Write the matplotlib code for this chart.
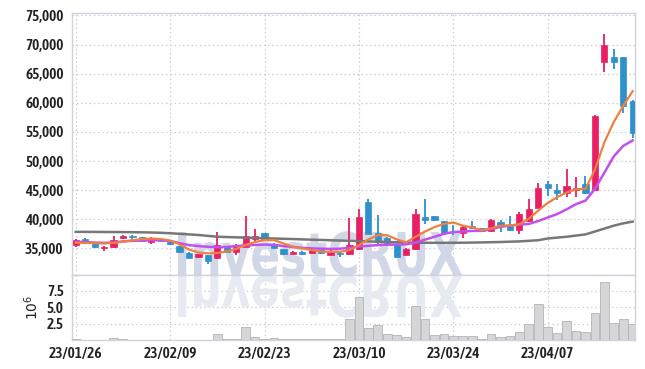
import numpy as np
import matplotlib
matplotlib.use("Agg")
import matplotlib.pyplot as plt
from matplotlib.textpath import TextPath
from matplotlib.font_manager import FontProperties, fontManager
from matplotlib.path import Path
from matplotlib.patches import PathPatch, Rectangle

# ---------------- data ----------------
tick_labels = ["23/01/26", "23/02/09", "23/02/23", "23/03/10", "23/03/24", "23/04/07"]
tick_index = [0, 10, 20, 30, 40, 50]

opens = [35500, 36600, 35850, 35000, 35200, 36710, 37100, 36880, 36150, 36500,
         36130, 35390, 34250, 33560, 33850, 33290, 35270, 34420, 35270, 36540,
         37670, 35750, 34830, 34080, 34420, 34250, 34710, 33850, 34250, 34020,
         34830, 42950, 37570, 36820, 35560, 33850, 34880, 40410, 40530, 39670,
         37900, 37670, 38820, 38420, 38010, 39450, 38870, 38130, 39730, 42020,
         46130, 45100, 44520, 45100, 46130, 45100, 66950, 67920, 67920, 60400]
highs = [36650, 36700, 36000, 35350, 37050, 37350, 37350, 36950, 37000, 36700,
         36200, 35400, 34300, 34100, 33900, 37740, 35300, 35800, 40530, 38250,
         37700, 35900, 34900, 34500, 34500, 34960, 34800, 34960, 34300, 40300,
         41830, 43500, 40700, 36900, 35600, 35100, 41730, 43440, 40600, 39700,
         38990, 38800, 39720, 38500, 40100, 39900, 40530, 41300, 43560, 46230,
         46600, 46130, 48700, 47260, 47380, 57900, 71810, 69240, 67950, 60450]
lows = [35300, 35900, 35000, 34550, 35100, 36600, 36600, 36250, 35780, 36200,
        35500, 34250, 33300, 33400, 32400, 33100, 34300, 33900, 35200, 36200,
        36500, 35050, 33950, 34000, 33800, 34200, 34100, 33800, 33550, 33900,
        34700, 37400, 35700, 35400, 33500, 33800, 34800, 39150, 39700, 37500,
        37270, 36800, 38300, 37800, 37900, 37740, 38000, 37500, 39600, 41900,
        44000, 43390, 43900, 43830, 44400, 45000, 65230, 65800, 58230, 54000]
closes = [36400, 35950, 35200, 35270, 36420, 37160, 36880, 36300, 36550, 36350,
          35680, 34300, 33390, 33970, 32880, 35560, 34420, 35390, 37100, 37100,
          36540, 35150, 34020, 34420, 34080, 34710, 34140, 34590, 33970, 35560,
          40410, 37500, 36130, 35850, 33560, 34880, 40870, 39840, 39840, 37570,
          37800, 38700, 38420, 37960, 39960, 38870, 38130, 40990, 41730, 45440,
          45440, 44520, 45660, 45440, 44520, 57820, 69970, 66950, 59540, 54790]

ma_short = [35960, 35950, 35900, 35850, 35950, 36150, 36400, 36600, 36700, 36600,
            36350, 35700, 34800, 34300, 34150, 34200, 34500, 34900, 35600, 36100,
            36420, 36420, 35850, 35270, 35000, 34710, 34450, 34400, 34420, 34710,
            35560, 36540, 37270, 37270, 36540, 36050, 37000, 37900, 38650, 39200,
            39450, 38900, 38600, 38100, 38450, 38900, 38950, 39150, 40100, 41500,
            42800, 43800, 44600, 45150, 45200, 48500, 53200, 56700, 59500, 62000]
ma_mid = [36130, 36100, 36000, 35950, 36000, 36200, 36300, 36350, 36400, 36400,
          36250, 35900, 35560, 35400, 35270, 35220, 35250, 35400, 35500, 35600,
          35650, 35600, 35400, 35250, 35100, 35000, 34950, 34900, 34950, 35100,
          35300, 35450, 35560, 35650, 35650, 35700, 36000, 36500, 36990, 37500,
          37800, 37900, 38000, 38000, 38300, 38700, 38900, 39100, 39200, 39700,
          40300, 40900, 41700, 42600, 43200, 45200, 48000, 50800, 52600, 53540]
ma_long = [37840, 37840, 37830, 37820, 37810, 37800, 37780, 37760, 37730, 37680,
           37600, 37500, 37400, 37300, 37150, 37000, 36950, 36900, 36850, 36800,
           36750, 36700, 36650, 36600, 36550, 36500, 36450, 36400, 36350, 36300,
           36250, 36200, 36150, 36100, 36050, 36000, 35980, 35960, 35960, 35960,
           35960, 35980, 36000, 36030, 36060, 36100, 36150, 36200, 36300, 36400,
           36700, 36850, 37000, 37200, 37400, 37900, 38400, 38900, 39300, 39600]

volumes = [0.2, 0.05, 0.0, 0.05, 0.3, 0.15, 0.0, 0.0, 0.0, 0.0,
           0.05, 0.1, 0.1, 0.05, 0.1, 0.95, 0.2, 0.2, 2.0, 0.45,
           0.15, 0.3, 0.15, 0.15, 0.15, 0.15, 0.15, 0.15, 0.15, 3.3,
           6.5, 1.8, 2.3, 0.95, 0.8, 0.45, 5.2, 3.3, 0.8, 0.9,
           0.65, 0.65, 0.65, 0.15, 0.9, 0.45, 0.65, 1.2, 2.4, 5.45,
           2.0, 1.05, 3.0, 1.45, 1.2, 4.1, 8.9, 2.6, 3.2, 2.4]

# ---------------- style ----------------
W, H = 645, 369
UP = "#e91e63"
DOWN = "#2d91cb"
GRID = "#c9ccdb"
SPINE = "#d0d3dd"
TXT = "#222222"

# pick a narrow font if one is installed
def pick_narrow():
    best = None
    for f in fontManager.ttflist:
        nm = f.name
        st = str(f.stretch)
        narrow = ("Narrow" in nm or "Condensed" in nm or st in ("condensed", "semi-condensed"))
        if not narrow:
            continue
        if f.style != "normal":
            continue
        w = f.weight if isinstance(f.weight, int) else {"bold": 700, "normal": 400}.get(f.weight, 400)
        score = abs(w - 600)
        if best is None or score < best[0]:
            best = (score, f.fname)
    return best[1] if best else None

nf = pick_narrow()
if nf:
    TICKFP = FontProperties(fname=nf, size=11)
else:
    TICKFP = FontProperties(family="DejaVu Sans", size=10)

fig = plt.figure(figsize=(W / 100, H / 100), dpi=100)
fig.patch.set_facecolor("white")

def frac_box(l, t, r, b):
    return [l / W, 1 - b / H, (r - l) / W, (b - t) / H]

ax = fig.add_axes(frac_box(72, 12.7, 635, 275))
axv = fig.add_axes(frac_box(72, 275, 635, 340.3), sharex=ax)

n = len(closes)
x = np.arange(n)

for a in (ax, axv):
    a.set_axisbelow(True)
    for s in a.spines.values():
        s.set_color(SPINE)
        s.set_linewidth(1.0)
    a.grid(True, color=GRID, linestyle=(0, (1.2, 2.2)), linewidth=0.9)
    a.tick_params(length=0, colors=TXT)

# ---- watermark ----
fp = FontProperties(family="DejaVu Sans", weight="bold")
tp = TextPath((0, 0), "InvestCRUX", prop=fp, size=50)
cap = TextPath((0, 0), "I", prop=fp, size=50).get_extents().y1
ext = tp.get_extents()
v = tp.vertices.copy()
px = 178 + (v[:, 0] - ext.x0) / ext.width * 284
py_main = 275 - v[:, 1] / cap * 43
py_ref = 276 + v[:, 1] / cap * 41
main_v = np.column_stack([px / W, 1 - py_main / H])
ref_v = np.column_stack([px / W, 1 - py_ref / H])
wm = PathPatch(Path(main_v, tp.codes), transform=fig.transFigure,
               facecolor="#d2d7e7", edgecolor="none", zorder=0.6)
ax.add_artist(wm)
wm2 = PathPatch(Path(ref_v, tp.codes), transform=fig.transFigure,
                facecolor="#e8eaf2", edgecolor="none", zorder=0.6)
axv.add_artist(wm2)

# ---- candles ----
bw = 0.66
for i in x:
    o, h, l, c = opens[i], highs[i], lows[i], closes[i]
    col = UP if c >= o else DOWN
    ax.vlines(i, l, h, color=col, linewidth=1.3, zorder=3)
    lo, hi = min(o, c), max(o, c)
    ax.add_patch(Rectangle((i - bw / 2, lo), bw, max(hi - lo, 60),
                           facecolor=col, edgecolor=col, linewidth=0.5, zorder=4))

ax.plot(x, ma_long, color="#777777", linewidth=1.8, zorder=5)
ax.plot(x, ma_mid, color="#c24ff0", linewidth=1.8, zorder=5)
ax.plot(x, ma_short, color="#ef8040", linewidth=1.6, zorder=6)

ax.set_ylim(30430, 75480)
ax.set_xlim(-0.4, 59.25)
yt = [35000, 40000, 45000, 50000, 55000, 60000, 65000, 70000, 75000]
ax.set_yticks(yt)
ax.set_yticklabels([f"{v:,}" for v in yt], fontproperties=TICKFP)
ax.tick_params(axis="y", pad=6)
ax.tick_params(axis="x", labelbottom=False)

# ---- volume ----
axv.bar(x, volumes, width=0.92, color="#d6d6d8", edgecolor="#b5b5b8",
        linewidth=0.6, zorder=3)
axv.set_ylim(0, 9.9)
axv.set_yticks([2.5, 5.0, 7.5])
axv.set_yticklabels(["2.5", "5.0", "7.5"], fontproperties=TICKFP)
axv.tick_params(axis="y", pad=6)
axv.set_xticks(tick_index)
axv.set_xticklabels(tick_labels, fontproperties=TICKFP)
axv.tick_params(axis="x", pad=5)
axv.set_ylabel(r"$10^6$", fontsize=10, color=TXT, labelpad=4)

fig.savefig("out.png", dpi=100, facecolor="white")
